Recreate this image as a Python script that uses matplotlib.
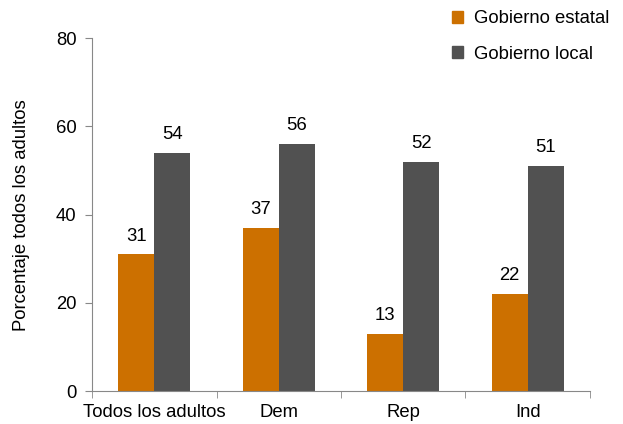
import numpy as np
import matplotlib.pyplot as plt
from matplotlib.patches import Patch

plt.rcParams['font.family'] = ['Liberation Sans', 'DejaVu Sans']

categories = ['Todos los adultos', 'Dem', 'Rep', 'Ind']
estatal = [31, 37, 13, 22]
local = [54, 56, 52, 51]

orange = '#cc7000'
gray = '#515151'
fs = 13.3

fig = plt.figure(figsize=(6.23, 4.24), dpi=100)
ax = fig.add_axes([0.1477, 0.0778, 0.7993, 0.832])

x = np.arange(len(categories))
w = 0.29
b1 = ax.bar(x - w / 2, estatal, w, color=orange)
b2 = ax.bar(x + w / 2, local, w, color=gray)

for bars, vals in [(b1, estatal), (b2, local)]:
    for r, v in zip(bars, vals):
        ax.annotate(str(v), (r.get_x() + r.get_width() / 2, v), xytext=(0, 7),
                    textcoords='offset points', ha='center', va='bottom', fontsize=fs)

ax.set_xlim(-0.5, len(categories) - 0.5)
ax.set_ylim(0, 80)
ax.set_yticks([0, 20, 40, 60, 80])
ax.set_xticks(x)
ax.set_xticklabels(categories)
ax.set_xticks(np.arange(len(categories) + 1) - 0.5, minor=True)
ax.tick_params(axis='x', which='major', length=0, labelsize=fs, pad=9)
ax.tick_params(axis='x', which='minor', length=5, color='#888888')
ax.tick_params(axis='y', length=5, color='#888888', labelsize=fs, pad=6)
for s in ['top', 'right']:
    ax.spines[s].set_visible(False)
for s in ['left', 'bottom']:
    ax.spines[s].set_color('#888888')
ax.set_ylabel('Porcentaje todos los adultos', fontsize=fs, labelpad=19)

handles = [Patch(color=orange), Patch(color=gray)]
fig.legend(handles, ['Gobierno estatal', 'Gobierno local'], loc='upper right',
           bbox_to_anchor=(1.005, 1.015), frameon=False, fontsize=fs,
           handlelength=0.6, handleheight=0.6, handletextpad=0.6, labelspacing=1.0)

fig.savefig('out.png', dpi=100)
